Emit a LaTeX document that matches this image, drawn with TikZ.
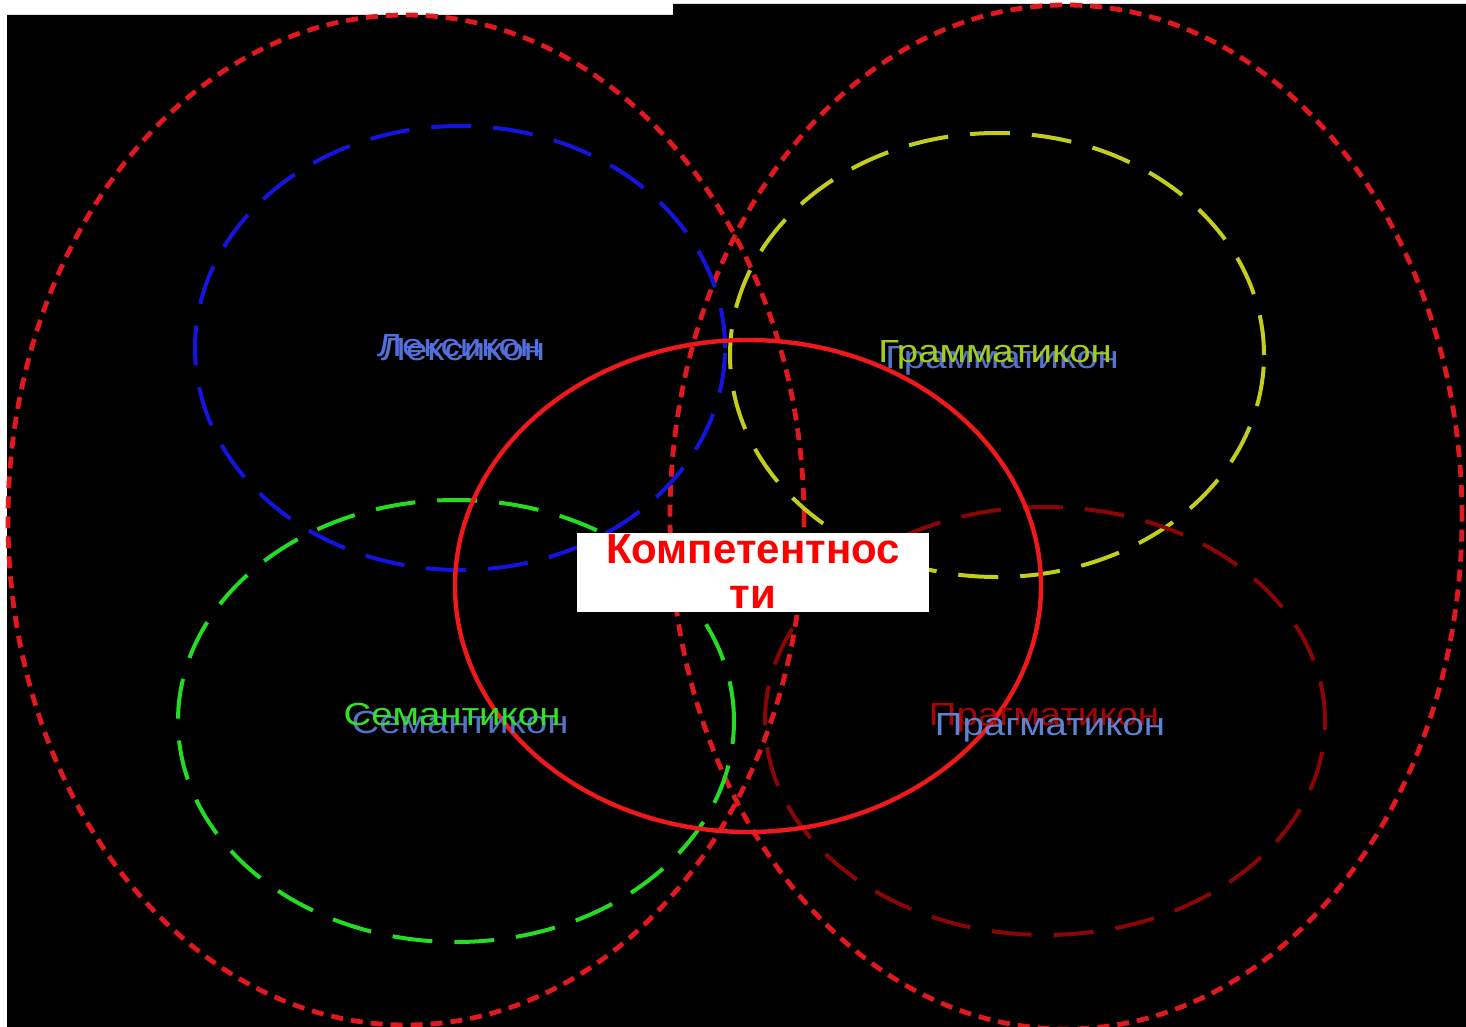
\documentclass[tikz,border=0pt]{standalone}
\usepackage{fontspec}
\setmainfont{Liberation Sans}
\begin{document}
\begin{tikzpicture}[x=0.5pt,y=0.5pt,
  bigdash/.style={draw=bigred,line width=2.4pt,dash pattern=on 6pt off 4pt},
  smalldash/.style={line width=2pt,dash pattern=on 20pt off 11pt},
  lbl/.style={inner sep=0pt,anchor=base,xscale=1.2,font=\fontsize{16}{19}\selectfont},
  shadow/.style={lbl,text=shadowblue},
  comptext/.style={inner sep=0pt,anchor=base,text=red,font=\bfseries\fontsize{21}{24}\selectfont}]
\definecolor{bigred}{RGB}{225,25,30}
\definecolor{lexblue}{RGB}{20,20,225}
\definecolor{gramyel}{RGB}{195,205,30}
\definecolor{semgreen}{RGB}{35,220,35}
\definecolor{pragred}{RGB}{140,5,5}
\definecolor{midred}{RGB}{240,25,25}
\definecolor{shadowblue}{RGB}{85,115,200}
\useasboundingbox (0,0) rectangle (1466,-1027);
\fill[white] (0,0) rectangle (1466,-1027);
\fill[black] (7,-15) -- (673,-15) -- (673,-4) -- (1466,-4) -- (1466,-1027) -- (7,-1027) -- cycle;
% big dashed
\draw[bigdash] (406,-520) ellipse [x radius=398, y radius=505];
\draw[bigdash] (1066,-517) ellipse [x radius=396, y radius=512];
% coloured dashed
\draw[smalldash,draw=lexblue] (460,-348) ellipse [x radius=265, y radius=222];
\draw[smalldash,draw=gramyel] (997,-355) ellipse [x radius=267, y radius=222];
\draw[smalldash,draw=semgreen] (456,-721) ellipse [x radius=278, y radius=221];
\draw[smalldash,draw=pragred] (1045,-721) ellipse [x radius=280, y radius=214];
% central
\draw[midred,line width=2.2pt] (748,-586) ellipse [x radius=293, y radius=246];
% labels
\node[shadow] (lexs) at (463,-360) {Лексикон};
\node[lbl,text={rgb,255:red,80;green,110;blue,235}] (lex) at (459,-356) {Лексикон};
\node[shadow] (grams) at (1002,-368) {Грамматикон};
\node[lbl,text={rgb,255:red,160;green,205;blue,30}] (gram) at (995,-362) {Грамматикон};
\node[shadow] (sems) at (460,-733) {Семантикон};
\node[lbl,text={rgb,255:red,50;green,225;blue,40}] (sem) at (452,-725) {Семантикон};
\node[lbl,text={rgb,255:red,165;green,5;blue,5}] (prag) at (1044,-725) {Прагматикон};
\node[shadow,text={rgb,255:red,95;green,130;blue,210}] (prags) at (1050,-735) {Прагматикон};
% centre box
\node[fill=white,inner sep=0pt,minimum width=176pt,minimum height=39.5pt] (box) at (753,-572.5) {};
\node[comptext] (comp1) at (753,-563) {Компетентнос};
\node[comptext] (comp2) at (753,-608) {ти};
\end{tikzpicture}
\end{document}
